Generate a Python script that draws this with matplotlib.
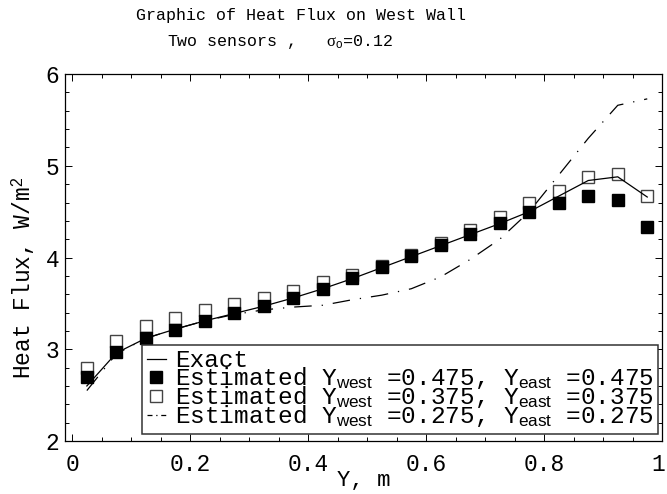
import matplotlib
matplotlib.use("Agg")
import matplotlib.pyplot as plt
import matplotlib.transforms as mtransforms
from matplotlib.lines import Line2D
from matplotlib.ticker import MultipleLocator

plt.rcParams['font.family'] = ['Liberation Mono', 'DejaVu Sans']
plt.rcParams['mathtext.fontset'] = 'custom'
plt.rcParams['mathtext.rm'] = 'Liberation Serif'
plt.rcParams['mathtext.it'] = 'Liberation Serif'
plt.rcParams['mathtext.sf'] = 'Liberation Sans'

# sensor positions along the wall
y_pos = [0.025, 0.075, 0.125, 0.175, 0.225, 0.275, 0.325, 0.375, 0.425, 0.475,
         0.525, 0.575, 0.625, 0.675, 0.725, 0.775, 0.825, 0.875, 0.925, 0.975]

q_exact = [2.60, 2.96, 3.12, 3.22, 3.31, 3.39, 3.47, 3.56, 3.66, 3.77,
           3.89, 4.01, 4.13, 4.25, 4.37, 4.50, 4.67, 4.84, 4.88, 4.66]
q_475 = [2.70, 2.97, 3.12, 3.21, 3.31, 3.39, 3.47, 3.56, 3.66, 3.78,
         3.90, 4.02, 4.14, 4.26, 4.38, 4.50, 4.60, 4.67, 4.63, 4.33]
q_375 = [2.80, 3.09, 3.25, 3.34, 3.43, 3.49, 3.56, 3.64, 3.73, 3.81,
         3.91, 4.03, 4.16, 4.30, 4.44, 4.59, 4.73, 4.88, 4.91, 4.67]
q_275 = [2.55, 2.95, 3.12, 3.22, 3.31, 3.38, 3.43, 3.46, 3.48, 3.54,
         3.59, 3.66, 3.79, 3.98, 4.20, 4.50, 4.90, 5.30, 5.66, 5.73]

xtick_labels = ['', '0', '0.2', '0.4', '0.6', '0.8', '1']

lab_exact = "Exact"
lab_475 = r"Estimated Y$_{\mathsf{west}}$ =0.475, Y$_{\mathsf{east}}$ =0.475"
lab_375 = r"Estimated Y$_{\mathsf{west}}$ =0.375, Y$_{\mathsf{east}}$ =0.375"
lab_275 = r"Estimated Y$_{\mathsf{west}}$ =0.275, Y$_{\mathsf{east}}$ =0.275"

fig = plt.figure(figsize=(6.67, 4.94), dpi=100)
ax = fig.add_axes([0.0975, 0.1073, 0.895, 0.7427])

dashdot = (0, (14, 8, 1, 8))

ax.plot(y_pos, q_375, ls='none', marker='s', ms=8.5, mfc='white',
        mec='#444444', mew=1.0, zorder=2)
ax.plot(y_pos, q_475, ls='none', marker='s', ms=8.5, mfc='black',
        mec='black', zorder=3)
ax.plot(y_pos, q_exact, color='black', lw=0.9, zorder=4)
ax.plot(y_pos, q_275, color='black', lw=0.9, ls=dashdot, zorder=4)

ax.set_ylim(2, 6)
ax.xaxis.set_minor_locator(MultipleLocator(0.05))
ax.yaxis.set_major_locator(MultipleLocator(1))
ax.yaxis.set_minor_locator(MultipleLocator(0.2))
ax.set_xticks([-0.2, 0, 0.2, 0.4, 0.6, 0.8, 1.0])
ax.set_xticklabels(xtick_labels)
ax.set_xlim(-0.012, 1.0)
ax.tick_params(which='both', direction='in', top=True, right=True,
               labelsize=16.5, width=0.7)
ax.tick_params(which='major', length=5)
ax.tick_params(which='minor', length=3)
ax.xaxis.set_tick_params(pad=9)
ax.yaxis.set_tick_params(pad=4)
for s in ax.spines.values():
    s.set_linewidth(0.9)

# keep the last tick label inside the picture
last = ax.get_xticklabels()[-1]
last.set_transform(last.get_transform() +
                   mtransforms.ScaledTranslation(-4 / 100, 0, fig.dpi_scale_trans))

ax.set_xlabel("Y, m", fontsize=16, labelpad=-5)
ax.set_ylabel(r"Heat Flux, W/m$^{\mathsf{2}}$", fontsize=16.5)
ax.yaxis.set_label_coords(-0.047, 0.445)

fig.text(0.451, 0.969, "Graphic of Heat Flux on West Wall",
         ha='center', va='center', fontsize=12)
fig.text(0.42, 0.915, r"Two sensors ,   $\sigma_{\mathsf{o}}$=0.12",
         ha='center', va='center', fontsize=12)

handles = [
    Line2D([], [], color='black', lw=0.9),
    Line2D([], [], ls='none', marker='s', ms=9, mfc='black', mec='black'),
    Line2D([], [], ls='none', marker='s', ms=9, mfc='white', mec='#444444'),
    Line2D([], [], color='black', lw=0.9, ls=(0, (4, 3, 1, 3))),
]
leg = ax.legend(handles, [lab_exact, lab_475, lab_375, lab_275],
                loc='lower right', bbox_to_anchor=(0.994, 0.019),
                fontsize=17.6, fancybox=False, framealpha=1,
                edgecolor='#333333', handlelength=0.8, handletextpad=0.35,
                labelspacing=-0.29, borderpad=0.2, borderaxespad=0)
leg.get_frame().set_linewidth(1.1)

fig.savefig("out.png", dpi=100)
